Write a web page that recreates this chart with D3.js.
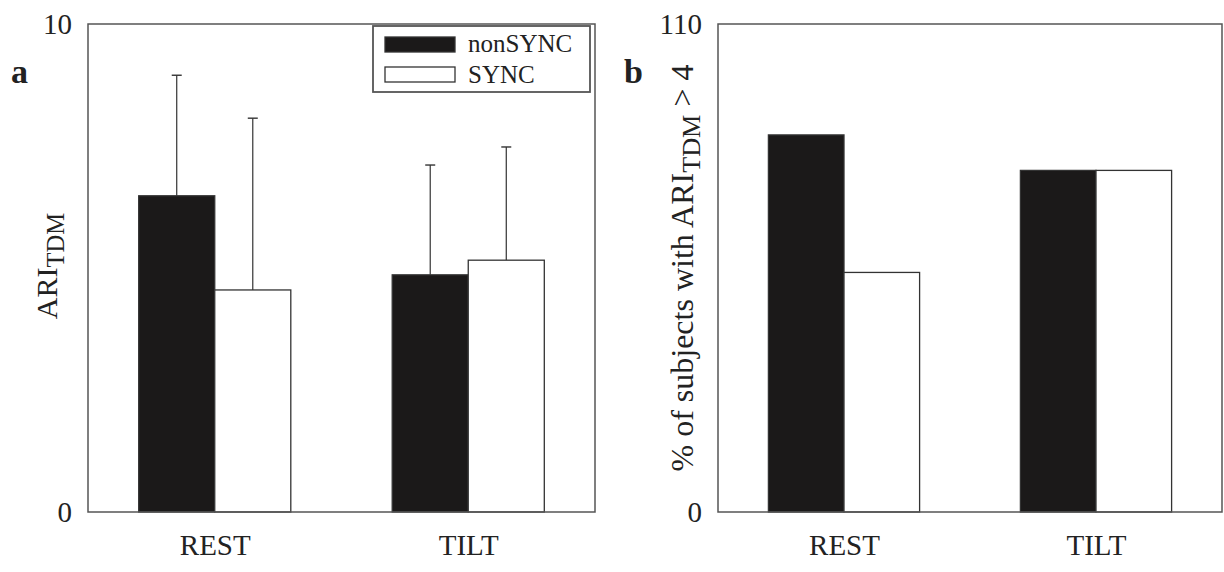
<!DOCTYPE html>
<html>
<head>
<meta charset="utf-8">
<script src="https://cdn.jsdelivr.net/npm/d3@7"></script>
<style>
  body { margin: 0; background: #fff; }
  text { font-family: "Liberation Serif", "DejaVu Serif", serif; fill: #222; }
</style>
</head>
<body>
<svg id="container" width="1224" height="572"></svg>
<script>
// data
const conditions = ["REST", "TILT"];
const groups = ["nonSYNC", "SYNC"];
const ariMean = [[6.48, 4.55], [4.86, 5.16]];   // [condition][group]
const ariSD = [[2.47, 3.52], [2.25, 2.32]];
const pctAbove4 = [[85, 54], [77, 77]];
const fills = ["#1b1919", "#ffffff"];

const svg = d3.select("#container");
const plotTop = 24, plotBottom = 512;

function panel(opts) {
  const g = svg.append("g");
  const x = d3.scalePoint().domain(conditions).range([opts.x0, opts.x1]).padding(0.5);
  const half = x.step() * 0.3;
  const xs = d3.scaleBand().domain(groups).range([-half, half]);
  const y = d3.scaleLinear().domain([0, opts.max]).range([plotBottom, plotTop]);

  const rows = [];
  conditions.forEach((c, i) => groups.forEach((s, j) => {
    rows.push({ c, s, j, v: opts.values[i][j], e: opts.err ? opts.err[i][j] : null });
  }));

  // error bars (upper only)
  if (opts.err) {
    const cx = d => x(d.c) + xs(d.s) + xs.bandwidth() / 2;
    const eb = g.selectAll(".err").data(rows).enter().append("g");
    eb.append("line")
      .attr("x1", cx).attr("x2", cx)
      .attr("y1", d => y(d.v))
      .attr("y2", d => y(d.v + d.e))
      .attr("stroke", "#333").attr("stroke-width", 1.2);
    eb.append("line")
      .attr("x1", d => cx(d) - 5).attr("x2", d => cx(d) + 5)
      .attr("y1", d => y(d.v + d.e))
      .attr("y2", d => y(d.v + d.e))
      .attr("stroke", "#333").attr("stroke-width", 1.4);
  }

  g.selectAll("rect.bar").data(rows).enter().append("rect")
    .attr("class", "bar")
    .attr("x", d => x(d.c) + xs(d.s))
    .attr("width", xs.bandwidth())
    .attr("y", d => y(d.v))
    .attr("height", d => plotBottom - y(d.v))
    .attr("fill", d => fills[d.j])
    .attr("stroke", "#333").attr("stroke-width", 1.3);

  // frame
  g.append("rect")
    .attr("x", opts.x0).attr("y", plotTop)
    .attr("width", opts.x1 - opts.x0).attr("height", plotBottom - plotTop)
    .attr("fill", "none").attr("stroke", "#555").attr("stroke-width", 1.5);

  const ya = g.append("g").attr("transform", `translate(${opts.x0},0)`)
    .call(d3.axisLeft(y).tickValues([0, opts.max]).tickSize(0).tickPadding(16));
  ya.select(".domain").remove();
  ya.selectAll("text").attr("font-size", 29).attr("font-family", "Liberation Serif").attr("fill", "#333");

  const xa = g.append("g").attr("transform", `translate(0,${plotBottom})`)
    .call(d3.axisBottom(x).tickSize(0).tickPadding(22));
  xa.select(".domain").remove();
  xa.selectAll("text").attr("font-size", 29).attr("font-family", "Liberation Serif").attr("fill", "#222");

  g.append("text").attr("x", opts.letterX).attr("y", 83)
    .attr("font-size", 34).attr("font-weight", "bold").text(opts.letter);

  const t = g.append("text")
    .attr("transform", `translate(${opts.titleX},${opts.titleY}) rotate(-90)`)
    .attr("text-anchor", "middle").attr("font-size", opts.titleSize).attr("fill", "#333");
  opts.title.forEach(p => {
    const ts = t.append("tspan").text(p.t);
    if (p.sub) ts.attr("font-size", opts.titleSize * 0.82).attr("dy", 7);
    if (p.after) ts.attr("dy", -7);
  });
  return { x, y };
}

panel({
  x0: 88, x1: 595, max: 10, values: ariMean, err: ariSD,
  letter: "a", letterX: 11, titleX: 57, titleY: 266, titleSize: 30,
  title: [{ t: "ARI" }, { t: "TDM", sub: true }]
});

panel({
  x0: 718, x1: 1222, max: 110, values: pctAbove4, err: null,
  letter: "b", letterX: 624, titleX: 693, titleY: 268, titleSize: 32,
  title: [{ t: "% of subjects with ARI" }, { t: "TDM", sub: true }, { t: " > 4", after: true }]
});

// legend
const lg = svg.append("g").attr("transform", "translate(373,26)");
lg.append("rect").attr("width", 217).attr("height", 66)
  .attr("fill", "#fff").attr("stroke", "#555").attr("stroke-width", 1.8);
groups.forEach((s, j) => {
  lg.append("rect").attr("x", 12).attr("y", 11 + j * 30).attr("width", 70).attr("height", 15)
    .attr("fill", fills[j]).attr("stroke", "#333").attr("stroke-width", 1.3);
  lg.append("text").attr("x", 95).attr("y", 26 + j * 31).attr("font-size", 25).attr("fill", "#333").text(s);
});
</script>
</body>
</html>
